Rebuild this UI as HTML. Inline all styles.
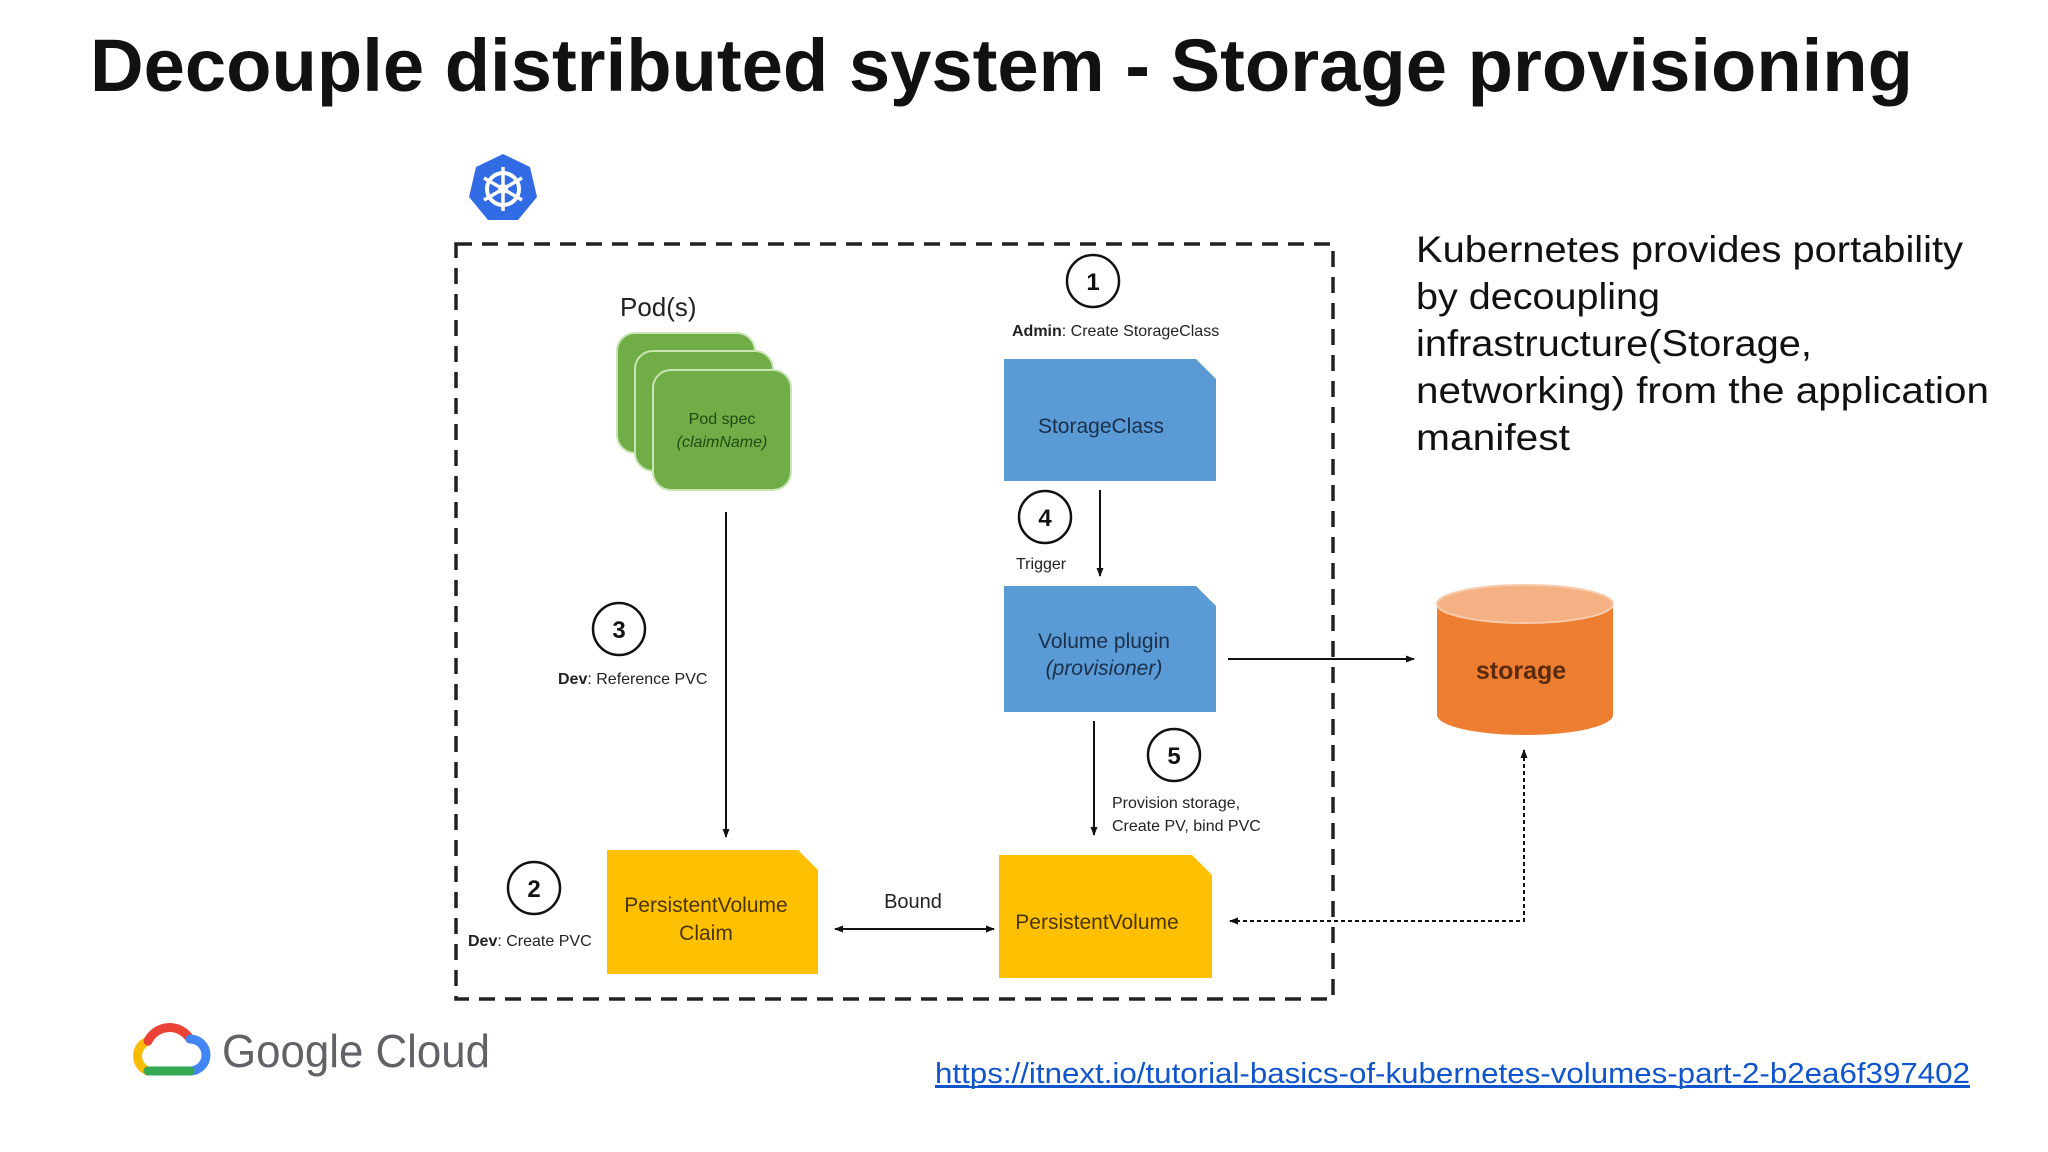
<!DOCTYPE html>
<html><head><meta charset="utf-8"><style>
html,body{margin:0;padding:0;background:#fff;}
svg{display:block;}
text{font-family:"Liberation Sans",sans-serif;}
</style></head><body>
<svg width="2048" height="1152" viewBox="0 0 2048 1152" xmlns="http://www.w3.org/2000/svg">
<defs>
<marker id="ah" markerWidth="10" markerHeight="10" refX="8" refY="5" orient="auto" markerUnits="userSpaceOnUse"><path d="M0,1.5 L9,5 L0,8.5 Z" fill="#111"/></marker>
<marker id="ahs" markerWidth="10" markerHeight="10" refX="2" refY="5" orient="auto" markerUnits="userSpaceOnUse"><path d="M10,1.5 L1,5 L10,8.5 Z" fill="#111"/></marker>
</defs>
<rect width="2048" height="1152" fill="#fff"/>
<text x="90" y="91" font-size="74" font-weight="bold" fill="#111" textLength="1823" lengthAdjust="spacingAndGlyphs">Decouple distributed system - Storage provisioning</text>

<!-- k8s logo -->
<g transform="translate(503,189)">
<polygon points="0,-35 27,-22 34,8 15,31 -15,31 -34,8 -27,-22" fill="#326ce5"/>
<circle r="16" fill="none" stroke="#fff" stroke-width="4"/>
<g stroke="#fff" stroke-width="3.5"><line x1="0" y1="-22" x2="0" y2="22"/><line x1="-19" y1="-11" x2="19" y2="11"/><line x1="-19" y1="11" x2="19" y2="-11"/></g>
<circle r="5" fill="#fff"/>
</g>

<!-- dashed box -->
<rect x="456" y="244" width="877" height="755" fill="none" stroke="#222" stroke-width="3.5" stroke-dasharray="16,10"/>

<!-- pods -->
<text x="620" y="316" font-size="26" fill="#222">Pod(s)</text>
<rect x="617" y="333" width="138" height="120" rx="18" fill="#70ad47" stroke="#c8e6b4" stroke-width="2"/>
<rect x="635" y="351" width="138" height="120" rx="18" fill="#70ad47" stroke="#c8e6b4" stroke-width="2"/>
<rect x="653" y="370" width="138" height="120" rx="18" fill="#70ad47" stroke="#c8e6b4" stroke-width="2"/>
<text x="722" y="424" font-size="16" fill="#224a12" text-anchor="middle">Pod spec</text>
<text x="722" y="447" font-size="16" fill="#224a12" text-anchor="middle" font-style="italic">(claimName)</text>

<!-- StorageClass -->
<path d="M1004,359 H1196 L1216,379 V481 H1004 Z" fill="#5b9bd5"/>
<text x="1101" y="433" font-size="21" fill="#1a2f4a" text-anchor="middle">StorageClass</text>
<!-- Volume plugin -->
<path d="M1004,586 H1196 L1216,606 V712 H1004 Z" fill="#5b9bd5"/>
<text x="1104" y="648" font-size="21" fill="#1a2f4a" text-anchor="middle">Volume plugin</text>
<text x="1104" y="675" font-size="21" fill="#1a2f4a" text-anchor="middle" font-style="italic">(provisioner)</text>
<!-- PVC -->
<path d="M607,850 H798 L818,870 V974 H607 Z" fill="#ffc000"/>
<text x="706" y="912" font-size="21" fill="#4a3500" text-anchor="middle">PersistentVolume</text>
<text x="706" y="940" font-size="21" fill="#4a3500" text-anchor="middle">Claim</text>
<!-- PV -->
<path d="M999,855 H1192 L1212,875 V978 H999 Z" fill="#ffc000"/>
<text x="1097" y="929" font-size="21" fill="#4a3500" text-anchor="middle">PersistentVolume</text>

<!-- storage cylinder -->
<path d="M1437,604 V715 A88,20 0 0 0 1613,715 V604 Z" fill="#ed7d31"/>
<ellipse cx="1525" cy="604" rx="88" ry="19" fill="#f4b183" stroke="#f8cbad" stroke-width="2"/>
<text x="1521" y="679" font-size="25" font-weight="bold" fill="#5a2a0a" text-anchor="middle">storage</text>

<!-- circles -->
<g fill="#fff" stroke="#111" stroke-width="2.5" >
<circle cx="1093" cy="281" r="26"/><circle cx="1045" cy="517" r="26"/><circle cx="619" cy="629" r="26"/><circle cx="1174" cy="755" r="26"/><circle cx="534" cy="888" r="26"/>
</g>
<g font-size="24" font-weight="bold" fill="#111" text-anchor="middle">
<text x="1093" y="290">1</text><text x="1045" y="526">4</text><text x="619" y="638">3</text><text x="1174" y="764">5</text><text x="534" y="897">2</text>
</g>

<!-- labels -->
<g font-size="16" fill="#222">
<text x="1012" y="336"><tspan font-weight="bold">Admin</tspan>: Create StorageClass</text>
<text x="1016" y="569">Trigger</text>
<text x="558" y="684"><tspan font-weight="bold">Dev</tspan>: Reference PVC</text>
<text x="1112" y="808">Provision storage,</text>
<text x="1112" y="831">Create PV, bind PVC</text>
<text x="468" y="946"><tspan font-weight="bold">Dev</tspan>: Create PVC</text>
</g>
<text x="913" y="908" font-size="20" fill="#222" text-anchor="middle">Bound</text>

<!-- arrows -->
<g stroke="#111" stroke-width="2" fill="none">
<line x1="726" y1="512" x2="726" y2="837" marker-end="url(#ah)"/>
<line x1="1100" y1="490" x2="1100" y2="576" marker-end="url(#ah)"/>
<line x1="1094" y1="721" x2="1094" y2="835" marker-end="url(#ah)"/>
<line x1="1228" y1="659" x2="1414" y2="659" marker-end="url(#ah)"/>
<line x1="835" y1="929" x2="994" y2="929" marker-end="url(#ah)" marker-start="url(#ahs)"/>
<path d="M1524,750 V921 H1230" stroke-dasharray="4,3" marker-end="url(#ah)" marker-start="url(#ahs)"/>
</g>

<!-- right text -->
<g font-size="37" fill="#111">
<text x="1416" y="262" textLength="547" lengthAdjust="spacingAndGlyphs">Kubernetes provides portability</text>
<text x="1416" y="309" textLength="244" lengthAdjust="spacingAndGlyphs">by decoupling</text>
<text x="1416" y="356" textLength="396" lengthAdjust="spacingAndGlyphs">infrastructure(Storage,</text>
<text x="1416" y="403" textLength="573" lengthAdjust="spacingAndGlyphs">networking) from the application</text>
<text x="1416" y="450" textLength="154" lengthAdjust="spacingAndGlyphs">manifest</text>
</g>

<!-- Google Cloud logo -->
<g transform="translate(170,1051)" fill="none" stroke-width="9" stroke-linecap="round">
<path d="M-22,20 A16,16 0 0 1 -22,-10" stroke="#fbbc04"/>
<path d="M-22,-10 A24,24 0 0 1 20,-12" stroke="#ea4335"/>
<path d="M20,-12 A16,16 0 0 1 20,20" stroke="#4285f4"/>
<path d="M-22,20 H20" stroke="#34a853"/>
</g>
<text x="222" y="1067" font-size="46" fill="#5f6368" textLength="268" lengthAdjust="spacingAndGlyphs">Google Cloud</text>

<text x="935" y="1083" font-size="29" fill="#1155cc" text-decoration="underline" textLength="1035" lengthAdjust="spacingAndGlyphs">https://itnext.io/tutorial-basics-of-kubernetes-volumes-part-2-b2ea6f397402</text>
<line x1="935" y1="1087" x2="1970" y2="1087" stroke="#1155cc" stroke-width="2"/>
</svg>
</body></html>
